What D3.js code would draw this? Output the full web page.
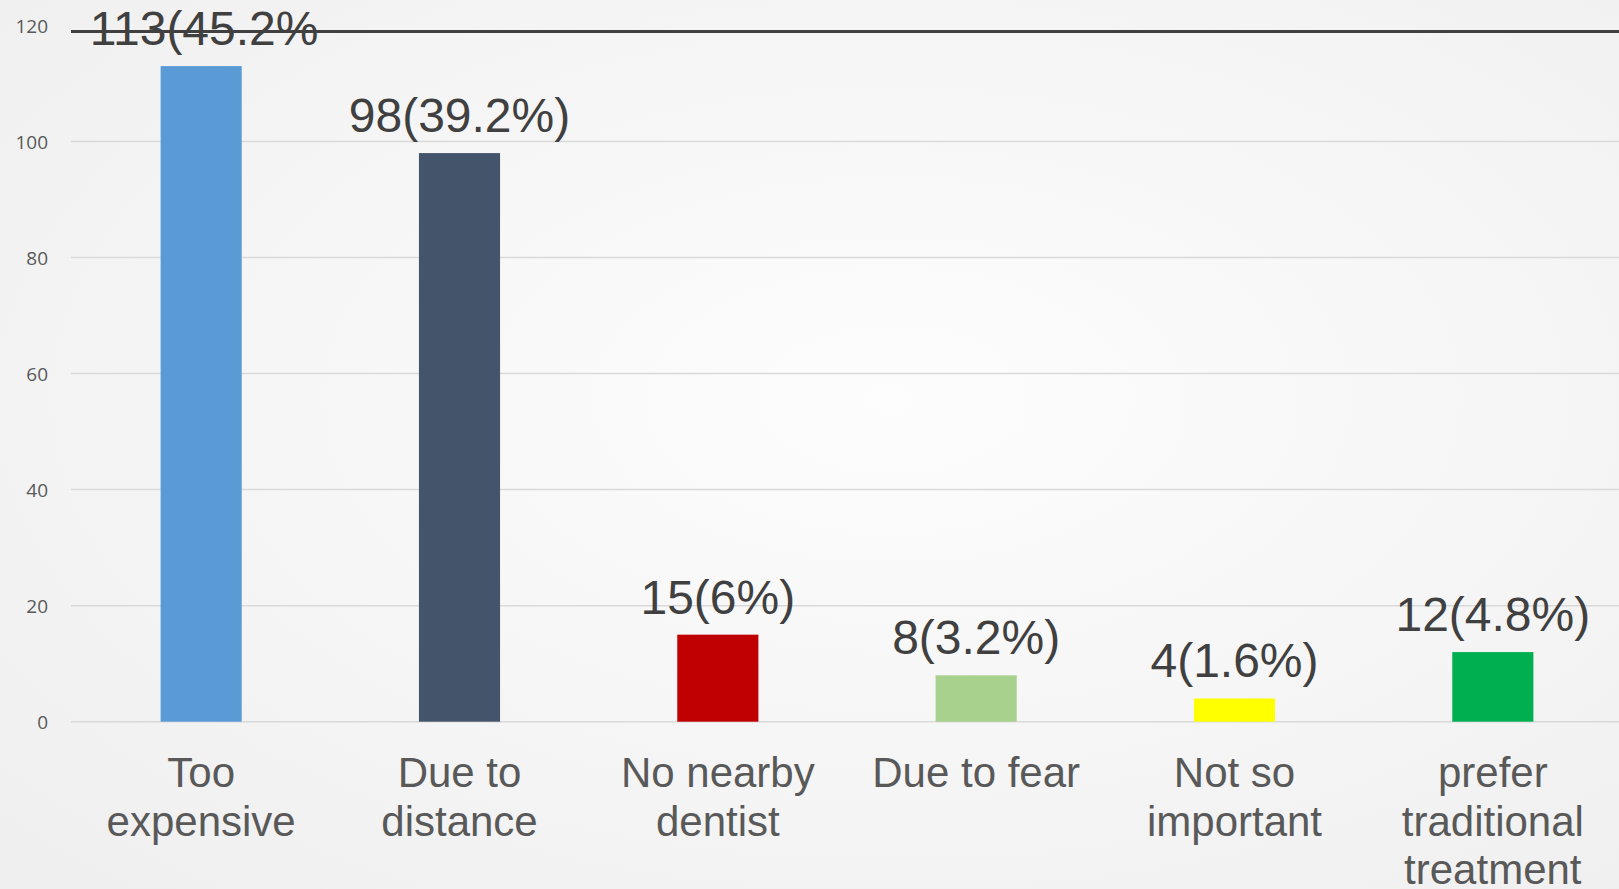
<!DOCTYPE html>
<html>
<head>
<meta charset="utf-8">
<script src="https://cdn.jsdelivr.net/npm/d3@7"></script>
<style>
  html, body { margin: 0; padding: 0; overflow: hidden; }
  svg { display: block; }
</style>
</head>
<body>
<svg id="chart" width="1619" height="889"></svg>
<script>
const categories = [
  ["Too", "expensive"],
  ["Due to", "distance"],
  ["No nearby", "dentist"],
  ["Due to fear"],
  ["Not so", "important"],
  ["prefer", "traditional", "treatment"]
];
const values = [113, 98, 15, 8, 4, 12];
const valueLabels = ["113(45.2%", "98(39.2%)", "15(6%)", "8(3.2%)", "4(1.6%)", "12(4.8%)"];
const colors = ["#5B9BD5", "#44546A", "#C00000", "#A9D18E", "#FFFF00", "#00B050"];
const tickValues = [0, 20, 40, 60, 80, 100, 120];

const W = 1619, H = 889;
const svg = d3.select("#chart");

// background gradient
const defs = svg.append("defs");
const grad = defs.append("radialGradient").attr("id", "bg")
  .attr("cx", "55%").attr("cy", "45%").attr("r", "75%");
grad.append("stop").attr("offset", "0%").attr("stop-color", "#fdfdfd");
grad.append("stop").attr("offset", "100%").attr("stop-color", "#efefef");
svg.append("rect").attr("width", W).attr("height", H).attr("fill", "url(#bg)");

const left = 72, right = 1622;
const yScale = d3.scaleLinear().domain([0, 100]).range([721.7, 141.5]);
const idx = d3.range(categories.length);
const xScale = d3.scaleBand().domain(idx).range([left, right])
  .paddingInner(0.686).paddingOuter(0.343);

// gridlines
svg.append("g").selectAll("line").data(tickValues.filter(t => t < 120)).join("line")
  .attr("x1", left - 1).attr("x2", W)
  .attr("y1", d => yScale(d)).attr("y2", d => yScale(d))
  .attr("stroke", "#d9d9d9").attr("stroke-width", 1.5);

// y axis labels
const yAxis = d3.axisLeft(yScale).tickValues(tickValues).tickSize(0).tickPadding(0);
const gy = svg.append("g").attr("transform", "translate(48,0)").call(yAxis);
gy.select(".domain").remove();
gy.selectAll("text")
  .attr("font-family", "'Open Sans', sans-serif")
  .attr("font-size", 19)
  .attr("fill", "#595959")
  .attr("dy", "0.35em");

// bars
svg.append("g").selectAll("rect").data(idx).join("rect")
  .attr("x", i => xScale(i))
  .attr("width", xScale.bandwidth())
  .attr("y", i => yScale(values[i]))
  .attr("height", i => yScale(0) - yScale(values[i]))
  .attr("fill", i => colors[i]);

// value labels
svg.append("g").selectAll("text").data(idx).join("text")
  .attr("x", i => xScale(i) + xScale.bandwidth() / 2 + (i === 0 ? 3 : 0))
  .attr("y", i => yScale(values[i]) - 21)
  .attr("text-anchor", "middle")
  .attr("font-family", "'Liberation Sans', Arial, sans-serif")
  .attr("font-size", 48)
  .attr("fill", "#404040")
  .text(i => valueLabels[i]);

// dark top rule
svg.append("line")
  .attr("x1", left - 1).attr("x2", W)
  .attr("y1", yScale(120) + 6).attr("y2", yScale(120) + 6)
  .attr("stroke", "#404040").attr("stroke-width", 3);

// category labels
const catG = svg.append("g").selectAll("text").data(idx).join("text")
  .attr("text-anchor", "middle")
  .attr("font-family", "'Liberation Sans', Arial, sans-serif")
  .attr("font-size", 42)
  .attr("fill", "#595959");
catG.each(function(i) {
  const t = d3.select(this);
  categories[i].forEach((line, k) => {
    t.append("tspan")
      .attr("x", xScale(i) + xScale.bandwidth() / 2)
      .attr("y", 787 + k * 48.5)
      .text(line);
  });
});
</script>
</body>
</html>
